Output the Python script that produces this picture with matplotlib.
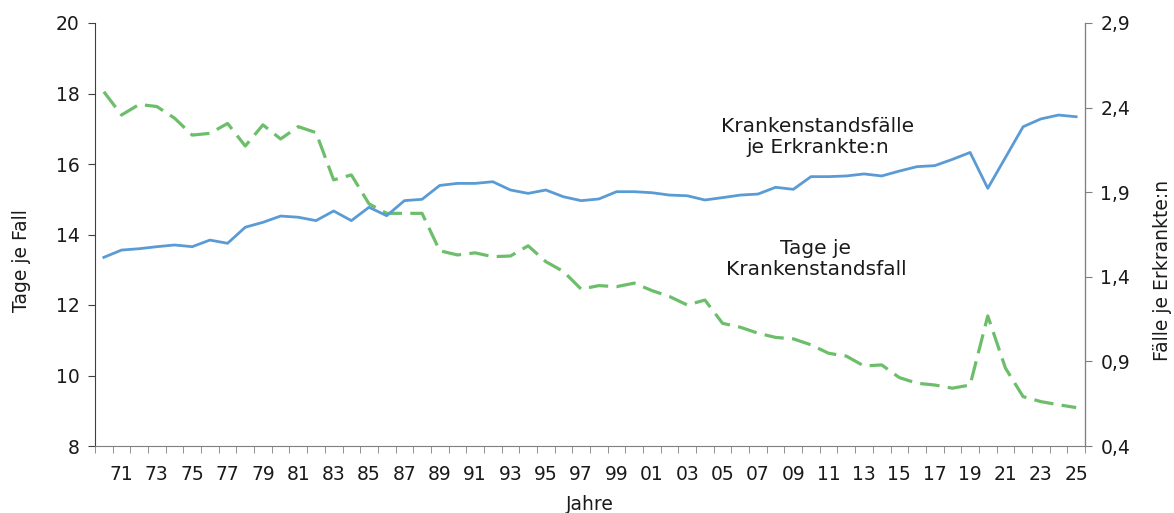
import matplotlib
matplotlib.use("Agg")
import matplotlib.pyplot as plt
from matplotlib.ticker import FixedLocator

# Daten
jahre = list(range(1970, 2026))

tage_je_fall = [
    18.05, 17.39, 17.69, 17.63, 17.30, 16.82, 16.87, 17.15, 16.51, 17.11,
    16.71, 17.06, 16.89, 15.55, 15.69, 14.87, 14.60, 14.60, 14.60, 13.54,
    13.42, 13.48, 13.37, 13.39, 13.68, 13.23, 12.95, 12.45, 12.55, 12.52,
    12.62, 12.41, 12.24, 12.00, 12.14, 11.48, 11.37, 11.20, 11.08, 11.04,
    10.87, 10.63, 10.55, 10.27, 10.30, 9.94, 9.78, 9.73, 9.64, 9.73,
    11.69, 10.21, 9.40, 9.26, 9.17, 9.09,
]

faelle_je_erkrankte = [
    1.515, 1.558, 1.566, 1.578, 1.588, 1.578, 1.617, 1.598, 1.693, 1.722,
    1.759, 1.752, 1.732, 1.789, 1.732, 1.811, 1.761, 1.850, 1.858, 1.940,
    1.952, 1.952, 1.962, 1.913, 1.893, 1.913, 1.873, 1.850, 1.860, 1.903,
    1.903, 1.897, 1.883, 1.879, 1.854, 1.868, 1.883, 1.889, 1.929, 1.917,
    1.992, 1.992, 1.996, 2.008, 1.996, 2.025, 2.051, 2.057, 2.094, 2.135,
    1.923, 2.105, 2.287, 2.333, 2.356, 2.346,
]

links_ticks = [8, 10, 12, 14, 16, 18, 20]
rechts_ticks = [0.4, 0.9, 1.4, 1.9, 2.4, 2.9]

BLAU = "#5B9BD5"
GRUEN = "#6DBE6B"
TXT = "#1a1a1a"
FS = 13.5

plt.rcParams["font.family"] = ["DejaVu Sans"]
plt.rcParams["lines.scale_dashes"] = False

fig = plt.figure(figsize=(11.74, 5.13), dpi=100)
ax1 = fig.add_axes([95 / 1174, 1 - 446 / 513, 990 / 1174, 423 / 513])
ax2 = ax1.twinx()

x = list(range(len(jahre)))

ax1.plot(x, tage_je_fall, color=GRUEN, linewidth=2.3, dashes=(14, 6),
         solid_joinstyle="round", dash_joinstyle="round")
ax2.plot(x, faelle_je_erkrankte, color=BLAU, linewidth=2.0,
         solid_joinstyle="round")

ax1.set_xlim(-0.5, len(jahre) - 0.5)
ax1.set_ylim(8, 20)
ax2.set_ylim(0.4, 2.9)

# x-Achse: Beschriftung jedes zweite Jahr, Striche zwischen den Kategorien
lab_pos = [i for i in x if i % 2 == 1]
ax1.set_xticks(lab_pos)
ax1.set_xticklabels([str(jahre[i])[2:] for i in lab_pos], fontsize=FS, color=TXT)
ax1.xaxis.set_minor_locator(FixedLocator([i - 0.5 for i in range(len(jahre) + 1)]))
ax1.tick_params(axis="x", which="major", length=0, pad=14)
ax1.tick_params(axis="x", which="minor", length=5, color="#7f7f7f")

ax1.set_yticks(links_ticks)
ax1.set_yticklabels([str(v) for v in links_ticks], fontsize=FS, color=TXT)
ax1.tick_params(axis="y", length=5, color="#404040", pad=6)

ax2.set_yticks(rechts_ticks)
ax2.set_yticklabels([f"{v:.1f}".replace(".", ",") for v in rechts_ticks],
                    fontsize=FS, color=TXT)
ax2.tick_params(axis="y", length=5, color="#7f7f7f", pad=6)

for ax in (ax1, ax2):
    ax.spines["top"].set_visible(False)
ax1.spines["left"].set_color("#404040")
ax1.spines["bottom"].set_color("#7f7f7f")
ax2.spines["right"].set_color("#7f7f7f")
ax2.spines["left"].set_visible(False)
ax2.spines["bottom"].set_visible(False)

# Achsentitel
fig.text(22 / 1174, 1 - 261 / 513, "Tage je Fall", rotation=90,
         ha="center", va="center", fontsize=FS, color=TXT)
fig.text(1163 / 1174, 1 - 270 / 513, "Fälle je Erkrankte:n", rotation=90,
         ha="center", va="center", fontsize=FS, color=TXT)
fig.text(590 / 1174, 1 - 505 / 513, "Jahre", ha="center", va="center",
         fontsize=FS, color=TXT)

# Reihenbeschriftungen
fig.text(818 / 1174, 1 - 137 / 513, "Krankenstandsfälle\nje Erkrankte:n",
         ha="center", va="center", fontsize=14.5, linespacing=1.1, color=TXT)
fig.text(816 / 1174, 1 - 259 / 513, "Tage je\nKrankenstandsfall",
         ha="center", va="center", fontsize=14.5, linespacing=1.1, color=TXT)

fig.savefig("out.png", dpi=100)
